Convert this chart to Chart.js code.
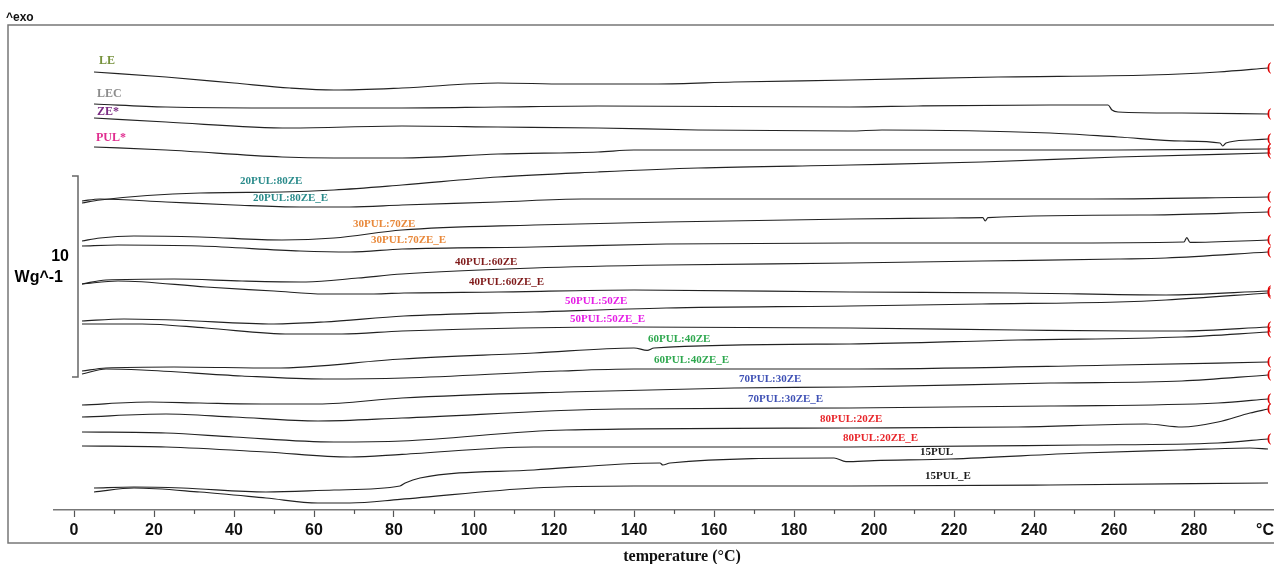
<!DOCTYPE html>
<html>
<head>
<meta charset="utf-8">
<script src="https://cdn.jsdelivr.net/npm/chart.js@4.4.1/dist/chart.umd.min.js"></script>
<style>
  html, body { margin: 0; padding: 0; background: #fff; }
  canvas { display: block; }
</style>
</head>
<body>
<canvas id="dscChart" width="1274" height="564"></canvas>
<script>
// DSC thermograms - heat flow (W/g, stacked curves) vs temperature (°C)

// ---- pure components ----
const tLE   = [5, 23, 40, 54, 65, 82, 106, 123, 146, 165, 194, 231, 269, 286, 298.5];
const vLE   = [21.9, 21.65, 21.35, 21.1, 21.0, 21.1, 21.35, 21.3, 21.3, 21.4, 21.5, 21.65, 21.75, 21.9, 22.1];

const tLEC  = [5, 23, 54, 82, 106, 131, 194, 211, 244, 258.5, 259.5, 261, 277, 298.5];
const vLEC  = [20.3, 20.15, 20.1, 20.1, 20.15, 20.2, 20.15, 20.2, 20.25, 20.25, 20.0, 19.9, 19.85, 19.8];

const tZE   = [5, 23, 54, 82, 106, 131, 156, 194, 202, 244, 261, 277, 286.5, 287.2, 288, 294, 298.5];
const vZE   = [19.6, 19.4, 19.1, 19.2, 19.15, 19.1, 19.0, 18.95, 19.0, 18.85, 18.65, 18.45, 18.35, 18.2, 18.35, 18.5, 18.55];

const tPUL  = [5, 23, 52, 65, 82, 106, 131, 140, 194, 227, 261, 298.5];
const vPUL  = [18.15, 18.0, 17.65, 17.6, 17.6, 17.8, 17.9, 18.0, 18.0, 18.0, 18.0, 18.05];

// ---- blends ----
const t2080  = [2, 6.5, 31.5, 52, 65, 82, 106, 131, 156, 194, 227, 261, 298.5];
const v2080  = [15.35, 15.5, 15.85, 15.9, 16.0, 16.25, 16.65, 16.9, 17.1, 17.25, 17.4, 17.65, 17.85];
const t2080E = [2, 6.5, 23, 40, 56.5, 69, 82, 106, 127, 194, 252, 298.5];
const v2080E = [15.45, 15.55, 15.4, 15.25, 15.15, 15.15, 15.25, 15.4, 15.55, 15.55, 15.55, 15.65];

const t3070  = [2, 6.5, 15, 31.5, 52, 65, 82, 115, 148, 194, 219, 227.2, 227.8, 228.5, 269, 298.5];
const v3070  = [13.45, 13.6, 13.7, 13.65, 13.5, 13.6, 14.0, 14.25, 14.4, 14.55, 14.6, 14.62, 14.45, 14.62, 14.75, 14.9];
const t3070E = [2, 11, 31.5, 56.5, 69, 82, 115, 148, 194, 244, 277.5, 278.2, 279, 298.5];
const v3070E = [13.2, 13.25, 13.2, 12.95, 12.9, 13.05, 13.15, 13.3, 13.35, 13.35, 13.4, 13.62, 13.38, 13.5];

const t4060  = [2, 8, 25, 42, 58, 71, 82, 115, 148, 194, 227, 261, 273, 298.5];
const v4060  = [11.3, 11.5, 11.55, 11.45, 11.4, 11.6, 11.8, 12.1, 12.25, 12.35, 12.45, 12.55, 12.6, 12.9];
const t4060E = [2, 11, 33, 50, 62.5, 75, 82.5, 106, 140, 194, 236, 273, 298.5];
const v4060E = [11.3, 11.45, 11.15, 10.95, 10.8, 10.8, 10.85, 10.9, 11.0, 10.9, 10.85, 10.75, 10.95];

const t5050  = [2, 12.5, 25, 50, 62.5, 82.5, 115, 148, 194, 227, 261, 273, 298.5];
const v5050  = [9.45, 9.55, 9.5, 9.3, 9.4, 9.7, 9.9, 10.1, 10.2, 10.3, 10.4, 10.5, 10.85];
const t5050E = [2, 17, 33, 54, 67, 82, 140, 194, 236, 265, 277, 298.5];
const v5050E = [9.3, 9.3, 9.1, 8.8, 8.8, 8.95, 9.15, 9.1, 9.0, 8.95, 8.95, 9.15];

const t6040  = [2, 8, 25, 50, 82, 115, 140, 143.3, 145, 194, 236, 277, 298.5];
const v6040  = [6.95, 7.1, 7.15, 7.1, 7.55, 7.85, 8.1, 7.98, 8.1, 8.3, 8.5, 8.65, 8.9];
const t6040E = [2, 8, 17, 42, 62.5, 82.5, 121.5, 140, 194, 261, 298.5];
const v6040E = [6.8, 7.05, 7.0, 6.7, 6.55, 6.6, 6.95, 7.05, 7.05, 7.25, 7.4];

const t7030  = [2, 19, 31.5, 48, 61, 82, 123, 165, 194, 244, 277, 298.5];
const v7030  = [5.25, 5.4, 5.35, 5.3, 5.3, 5.6, 5.9, 6.1, 6.15, 6.35, 6.45, 6.75];
const t7030E = [2, 23, 40, 61, 82, 136, 194, 244, 286, 298.5];
const v7030E = [4.65, 4.8, 4.65, 4.45, 4.6, 5.05, 5.1, 5.2, 5.35, 5.55];

const t8020  = [2, 23, 40, 65, 82, 123, 194, 236, 268, 277, 286, 294, 298.5];
const v8020  = [3.9, 3.85, 3.65, 3.4, 3.45, 4.0, 4.1, 4.15, 4.3, 4.15, 4.4, 4.85, 5.05];
const t8020E = [2, 23, 48, 69, 82, 115, 194, 252, 286, 298.5];
const v8020E = [3.2, 3.15, 2.9, 2.65, 2.78, 3.15, 3.15, 3.25, 3.35, 3.55];

const t15  = [5, 15, 27, 48, 65, 81.5, 82.8, 86.5, 115, 146.5, 147.2, 149, 190, 193, 200, 219, 252, 277, 294, 298.5];
const v15  = [1.1, 1.15, 1.1, 0.9, 1.0, 1.2, 1.35, 1.6, 2.0, 2.35, 2.25, 2.35, 2.6, 2.42, 2.47, 2.55, 2.85, 3.0, 3.1, 3.05];
const t15E = [5, 15, 31.5, 48, 61, 69, 81.5, 115, 140, 194, 244, 298.5];
const v15E = [0.9, 1.1, 0.9, 0.6, 0.35, 0.35, 0.53, 1.1, 1.2, 1.2, 1.25, 1.35];

// x tick values (°C)
const xTicks = [0, 20, 40, 60, 80, 100, 120, 140, 160, 180, 200, 220, 240, 260, 280];

// label text, colour, and where it sits (in °C / W/g)
const series = [
  { name: 'LE',           t: tLE,    v: vLE,    color: '#76923c', lt: 6.25,  lv: 22.45, size: 12, marker: true },
  { name: 'LEC',          t: tLEC,   v: vLEC,   color: '#8c8c8c', lt: 5.75,  lv: 20.8,  size: 12, marker: true },
  { name: 'ZE*',          t: tZE,    v: vZE,    color: '#7b2c83', lt: 5.75,  lv: 19.9,  size: 12, marker: true },
  { name: 'PUL*',         t: tPUL,   v: vPUL,   color: '#e02d8f', lt: 5.5,   lv: 18.6,  size: 12, marker: true },
  { name: '20PUL:80ZE',   t: t2080,  v: v2080,  color: '#2a8b8b', lt: 41.5,  lv: 16.45, size: 11, marker: true },
  { name: '20PUL:80ZE_E', t: t2080E, v: v2080E, color: '#2a8b8b', lt: 44.75, lv: 15.6,  size: 11, marker: true },
  { name: '30PUL:70ZE',   t: t3070,  v: v3070,  color: '#e8883a', lt: 69.75, lv: 14.3,  size: 11, marker: true },
  { name: '30PUL:70ZE_E', t: t3070E, v: v3070E, color: '#e8883a', lt: 74.25, lv: 13.5,  size: 11, marker: true },
  { name: '40PUL:60ZE',   t: t4060,  v: v4060,  color: '#7f1a1a', lt: 95.25, lv: 12.4,  size: 11, marker: true },
  { name: '40PUL:60ZE_E', t: t4060E, v: v4060E, color: '#7f1a1a', lt: 98.75, lv: 11.4,  size: 11, marker: true },
  { name: '50PUL:50ZE',   t: t5050,  v: v5050,  color: '#e61ee6', lt: 122.75,lv: 10.45, size: 11, marker: true },
  { name: '50PUL:50ZE_E', t: t5050E, v: v5050E, color: '#e61ee6', lt: 124,   lv: 9.55,  size: 11, marker: true },
  { name: '60PUL:40ZE',   t: t6040,  v: v6040,  color: '#2fa84f', lt: 143.5, lv: 8.55,  size: 11, marker: true },
  { name: '60PUL:40ZE_E', t: t6040E, v: v6040E, color: '#2fa84f', lt: 145,   lv: 7.5,   size: 11, marker: true },
  { name: '70PUL:30ZE',   t: t7030,  v: v7030,  color: '#3f51b5', lt: 166.25,lv: 6.55,  size: 11, marker: true },
  { name: '70PUL:30ZE_E', t: t7030E, v: v7030E, color: '#3f51b5', lt: 168.5, lv: 5.55,  size: 11, marker: true },
  { name: '80PUL:20ZE',   t: t8020,  v: v8020,  color: '#e8262b', lt: 186.5, lv: 4.55,  size: 11, marker: true },
  { name: '80PUL:20ZE_E', t: t8020E, v: v8020E, color: '#e8262b', lt: 192.25,lv: 3.6,   size: 11, marker: true },
  { name: '15PUL',        t: t15,    v: v15,    color: '#1a1a1a', lt: 211.5, lv: 2.9,   size: 11, marker: false },
  { name: '15PUL_E',      t: t15E,   v: v15E,   color: '#1a1a1a', lt: 212.75,lv: 1.7,   size: 11, marker: false }
];

const datasets = series.map(s => ({
  label: s.name,
  data: s.t.map((t, i) => ({ x: t, y: s.v[i] })),
  borderColor: '#222',
  borderWidth: 1.2,
  fill: false,
  cubicInterpolationMode: 'monotone',
  pointRadius: 0,
  pointHoverRadius: 0
}));

// frame, minor ticks, scale bar, curve labels, end markers, axis texts
const decorations = {
  id: 'decorations',
  afterDraw(chart) {
    const { ctx, scales: { x, y } } = chart;
    ctx.save();

    // outer frame
    ctx.strokeStyle = '#777';
    ctx.lineWidth = 1.5;
    ctx.strokeRect(8, 25, chart.width + 10, 518);

    // minor ticks
    ctx.strokeStyle = '#555';
    ctx.lineWidth = 1.2;
    for (let v = 10; v < 300; v += 20) {
      const px = Math.round(x.getPixelForValue(v)) + 0.5;
      ctx.beginPath();
      ctx.moveTo(px, y.bottom);
      ctx.lineTo(px, y.bottom + 4);
      ctx.stroke();
    }

    // 10 W/g scale bracket
    const bx = x.getPixelForValue(1);
    const bTop = y.getPixelForValue(16.7);
    const bBot = y.getPixelForValue(6.65);
    ctx.strokeStyle = '#666';
    ctx.lineWidth = 1.5;
    ctx.beginPath();
    ctx.moveTo(bx - 6, bTop);
    ctx.lineTo(bx, bTop);
    ctx.lineTo(bx, bBot);
    ctx.lineTo(bx - 6, bBot);
    ctx.stroke();

    ctx.fillStyle = '#000';
    ctx.font = 'bold 16px "Liberation Sans", Arial, sans-serif';
    ctx.textAlign = 'right';
    ctx.textBaseline = 'middle';
    const bMid = (bTop + bBot) / 2;
    ctx.fillText('10', bx - 9, bMid - 20);
    ctx.fillText('Wg^-1', bx - 15, bMid + 1);

    // ^exo
    ctx.textAlign = 'left';
    ctx.font = 'bold 12px "Liberation Sans", Arial, sans-serif';
    ctx.fillStyle = '#111';
    ctx.fillText('^exo', 6, 18);

    // °C at the end of the axis
    ctx.font = 'bold 16px "Liberation Sans", Arial, sans-serif';
    ctx.textAlign = 'right';
    ctx.fillStyle = '#111';
    ctx.fillText('°C', chart.width, 531);

    // axis title
    ctx.font = 'bold 16px "Liberation Serif", "Times New Roman", serif';
    ctx.textAlign = 'center';
    ctx.fillText('temperature (°C)', x.getPixelForValue(152), 557);

    // curve labels
    ctx.textAlign = 'left';
    series.forEach(s => {
      ctx.fillStyle = s.color;
      ctx.font = 'bold ' + s.size + 'px "Liberation Serif", "Times New Roman", serif';
      ctx.fillText(s.name, x.getPixelForValue(s.lt), y.getPixelForValue(s.lv));
    });

    // red end-of-run markers
    ctx.fillStyle = '#e00000';
    ctx.font = 'bold 13px "Liberation Serif", "Times New Roman", serif';
    ctx.textAlign = 'left';
    series.filter(s => s.marker).forEach(s => {
      const n = s.t.length - 1;
      ctx.fillText('(', x.getPixelForValue(s.t[n]) - 1, y.getPixelForValue(s.v[n]));
    });

    ctx.restore();
  }
};

new Chart(document.getElementById('dscChart'), {
  type: 'line',
  data: { datasets: datasets },
  options: {
    responsive: false,
    animation: false,
    events: [],
    layout: { padding: { left: 54, right: 0, top: 30, bottom: 0 } },
    plugins: {
      legend: { display: false },
      tooltip: { enabled: false }
    },
    scales: {
      x: {
        type: 'linear',
        min: -5,
        max: 300,
        afterBuildTicks(scale) {
          scale.ticks = xTicks.map(v => ({ value: v }));
        },
        afterFit(scale) { scale.height = 54; },
        ticks: {
          autoSkip: false,
          maxRotation: 0,
          padding: 4,
          color: '#111',
          font: { family: '"Liberation Sans", Arial, sans-serif', size: 16, weight: 'bold' }
        },
        grid: {
          drawOnChartArea: false,
          drawTicks: true,
          tickLength: 7,
          tickWidth: 1.2,
          tickColor: '#555'
        },
        border: { display: true, color: '#777', width: 1.5 }
      },
      y: {
        display: false,
        min: 0,
        max: 24
      }
    }
  },
  plugins: [decorations]
});
</script>
</body>
</html>
